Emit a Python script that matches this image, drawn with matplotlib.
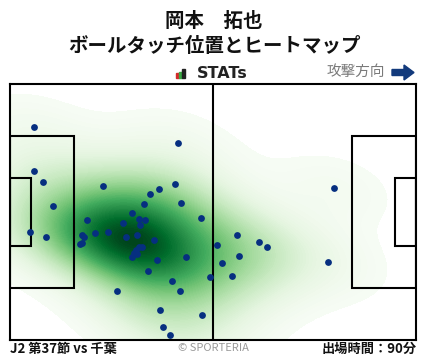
import numpy as np
import matplotlib
matplotlib.use("Agg")
import matplotlib.pyplot as plt
import seaborn as sns
from matplotlib.patches import Rectangle, Polygon

plt.rcParams['font.family'] = ['Noto Sans CJK JP', 'DejaVu Sans']

# ball touch positions (pitch metres, x: 0-105 attacking right, y: 0-68 from bottom)
touch_x = [6.3, 43.5, 6.3, 8.6, 24.1, 38.6, 42.7, 36.3, 11.2, 34.7,
           44.3, 31.6, 33.4, 35.0, 49.4, 20.0, 29.3, 33.7, 5.2, 9.4,
           18.5, 19.2, 18.2, 18.7, 22.1, 25.4, 30.1, 32.9, 37.3, 33.4,
           34.2, 32.5, 32.1, 32.9, 31.6, 38.1, 45.6, 35.8, 42.0, 44.0,
           27.7, 51.7, 38.9, 49.7, 39.6, 41.5, 53.6, 83.9, 58.8, 64.5,
           66.5, 59.3, 54.9, 57.5, 82.3]
touch_y = [56.5, 52.2, 44.8, 41.9, 40.8, 40.0, 41.4, 38.7, 35.5, 36.0,
           36.3, 33.7, 32.1, 31.8, 32.3, 31.8, 31.0, 30.5, 28.6, 27.3,
           27.8, 27.3, 25.4, 25.7, 28.3, 28.6, 27.3, 27.8, 26.5, 24.6,
           24.6, 23.8, 23.0, 22.8, 22.0, 21.2, 22.0, 18.2, 15.6, 12.9,
           12.9, 16.7, 7.9, 6.6, 3.4, 1.2, 25.2, 40.3, 27.8, 26.0,
           24.6, 22.2, 20.4, 16.9, 20.6]

player = "岡本　拓也"
subtitle = "ボールタッチ位置とヒートマップ"
match_label = "J2 第37節 vs 千葉"
minutes_label = "出場時間：90分"

W, H = 428, 359
fig = plt.figure(figsize=(W / 100, H / 100), dpi=100)

# pitch axes
ax = fig.add_axes([10 / W, (H - 340) / H, 406 / W, 256 / H])
sns.kdeplot(x=touch_x, y=touch_y, fill=True, cmap="Greens", levels=100,
            thresh=0.015, bw_adjust=1.35, clip=((0, 105), (0, 68)), ax=ax, zorder=1)

lc = "black"
lw = 1.5
ax.plot([52.5, 52.5], [0, 68], color=lc, lw=lw, zorder=2)
for x0, w in [(0, 16.5), (105 - 16.5, 16.5)]:
    ax.add_patch(Rectangle((x0, 34 - 20.16), w, 40.32, fill=False, ec=lc, lw=lw, zorder=2))
for x0, w in [(0, 5.5), (105 - 5.5, 5.5)]:
    ax.add_patch(Rectangle((x0, 34 - 9.16), w, 18.32, fill=False, ec=lc, lw=lw, zorder=2))
ax.scatter(touch_x, touch_y, s=24, color="#062f80", zorder=3, linewidths=0)
ax.set_xlim(0, 105)
ax.set_ylim(0, 68)
ax.set_xticks([])
ax.set_yticks([])
ax.set_xlabel("")
ax.set_ylabel("")
for s in ax.spines.values():
    s.set_linewidth(lw)
    s.set_color(lc)

# overlay in pixel coordinates for header/footer
ov = fig.add_axes([0, 0, 1, 1], zorder=-1)
ov.set_xlim(0, W)
ov.set_ylim(H, 0)
ov.axis("off")

ov.text(214, 21, player, ha="center", va="center", fontsize=14, fontweight="bold", color="#111111")
ov.text(214, 46, subtitle, ha="center", va="center", fontsize=14, fontweight="bold", color="#111111")

# STATs logo
ov.add_patch(Rectangle((176.5, 73), 2.5, 4.5, color="#d42a2a"))
ov.add_patch(Rectangle((179.5, 71.5), 2.5, 6, color="#3aa845"))
ov.add_patch(Rectangle((182.5, 68.5), 3, 9, color="#222222"))
ov.text(197, 73.5, "STATs", ha="left", va="center", fontsize=11.5, fontweight="bold",
        color="#222222", family=["DejaVu Sans"])

ov.text(385, 72, "攻撃方向", ha="right", va="center", fontsize=10.5, color="#7a7a7a")
arrow = [(392, 69.5), (404, 69.5), (404, 65), (414, 72.5), (404, 80), (404, 75.5), (392, 75.5)]
ov.add_patch(Polygon(arrow, closed=True, color="#123a7c"))

ov.text(10, 349, match_label, ha="left", va="center", fontsize=9.5, fontweight="bold", color="#111111")
ov.text(213, 348, "© SPORTERIA", ha="center", va="center", fontsize=8, color="#9a9a9a")
ov.text(417, 349, minutes_label, ha="right", va="center", fontsize=9.5, fontweight="bold", color="#111111")

fig.savefig("out.png", dpi=100)
